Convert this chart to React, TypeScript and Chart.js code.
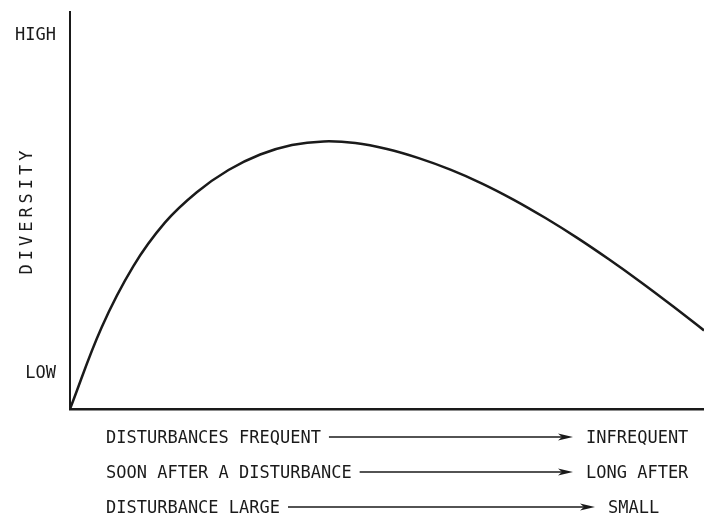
import React, { useEffect, useRef } from 'react';
import { Chart, registerables } from 'chart.js';

Chart.register(...registerables);

// Position along the disturbance gradient (0 = frequent/soon/large, 100 = infrequent/long after/small)
const gradientPos = [0, 5, 10, 15, 20, 25, 30, 35, 40, 45, 50, 55, 60, 65, 70, 75, 80, 85, 90, 95, 100];
// Relative species diversity at each position
const diversity = [0, 20.6, 36.0, 47.0, 54.6, 60.2, 64.1, 66.5, 67.4, 67.0, 65.5, 63.2, 60.3, 56.8, 52.7, 48.1, 43.1, 37.7, 32.0, 26.0, 19.8];

const yTickValues = [9, 94];
const yTickLabels = ['LOW', 'HIGH'];
const yAxisTitle = 'DIVERSITY';

const gradientStart = ['DISTURBANCES FREQUENT', 'SOON AFTER A DISTURBANCE', 'DISTURBANCE LARGE'];
const gradientEnd = ['INFREQUENT', 'LONG AFTER', 'SMALL'];

// Layout of the three gradient rows under the plot
const INK = '#1a1a1a';
const FONT = "17px 'DejaVu Sans Mono', monospace";
const ROW_CENTER_OFFSETS = [28, 63, 98];
const ROW_TEXT_X = 106;
const ARROW_TIPS = [573, 573, 595];

const gradientRows = {
  id: 'gradientRows',
  afterDraw(chart: any) {
    const { ctx, chartArea } = chart;
    ctx.save();
    ctx.font = FONT;
    ctx.fillStyle = INK;
    ctx.strokeStyle = INK;
    ctx.textBaseline = 'alphabetic';
    ctx.textAlign = 'left';
    gradientStart.forEach((label, i) => {
      const cy = chartArea.bottom + ROW_CENTER_OFFSETS[i];
      const base = cy + 6;
      ctx.fillText(label, ROW_TEXT_X, base);
      const a0 = ROW_TEXT_X + ctx.measureText(label).width + 8;
      const tip = ARROW_TIPS[i];
      ctx.lineWidth = 1.6;
      ctx.beginPath();
      ctx.moveTo(a0, cy);
      ctx.lineTo(tip - 10, cy);
      ctx.stroke();
      ctx.beginPath();
      ctx.moveTo(tip, cy);
      ctx.lineTo(tip - 15, cy - 3.5);
      ctx.lineTo(tip - 11, cy);
      ctx.lineTo(tip - 15, cy + 3.5);
      ctx.closePath();
      ctx.fill();
      ctx.fillText(gradientEnd[i], tip + 13, base);
    });

    // vertical axis title
    const cx = 26;
    const cyMid = (chartArea.top + chartArea.bottom) / 2 + 2;
    ctx.translate(cx, cyMid);
    ctx.rotate(-Math.PI / 2);
    (ctx as any).letterSpacing = '4px';
    ctx.textAlign = 'center';
    ctx.textBaseline = 'alphabetic';
    ctx.fillText(yAxisTitle, 2, 6);
    ctx.restore();
  },
};

export default function App() {
  const canvasRef = useRef<HTMLCanvasElement | null>(null);

  useEffect(() => {
    const canvas = canvasRef.current;
    if (!canvas) return;
    const chart = new Chart(canvas, {
      type: 'line',
      data: {
        datasets: [
          {
            data: gradientPos.map((x, i) => ({ x, y: diversity[i] })),
            borderColor: INK,
            borderWidth: 2.5,
            pointRadius: 0,
            fill: false,
            tension: 0.4,
          },
        ],
      },
      options: {
        responsive: false,
        animation: false,
        events: [],
        layout: { padding: { top: 12, right: 0, left: 0, bottom: 0 } },
        plugins: {
          legend: { display: false },
          tooltip: { enabled: false },
        },
        scales: {
          x: {
            type: 'linear',
            min: 0,
            max: 100,
            grid: { display: false, drawTicks: false },
            border: { display: true, color: INK, width: 2.5 },
            ticks: { display: false },
            afterFit: (scale: any) => {
              scale.height = 109;
              scale.paddingLeft = 0;
              scale.paddingRight = 0;
            },
          },
          y: {
            type: 'linear',
            min: 0,
            max: 100,
            grid: { display: false, drawTicks: false },
            border: { display: true, color: INK, width: 2 },
            afterBuildTicks: (scale: any) => {
              scale.ticks = yTickValues.map((value) => ({ value }));
            },
            ticks: {
              autoSkip: false,
              padding: 14,
              color: INK,
              font: { family: "'DejaVu Sans Mono', monospace", size: 17 },
              callback: (_v: any, index: number) => yTickLabels[index] ?? '',
            },
            afterFit: (scale: any) => {
              scale.width = 70;
              scale.paddingTop = 0;
              scale.paddingBottom = 0;
            },
          },
        },
      },
      plugins: [gradientRows],
    } as any);
    return () => chart.destroy();
  }, []);

  return (
    <div style={{ position: 'fixed', left: 0, top: 0, width: 704, height: 518, background: '#fff' }}>
      <canvas ref={canvasRef} width={704} height={518} style={{ display: 'block' }} />
    </div>
  );
}
